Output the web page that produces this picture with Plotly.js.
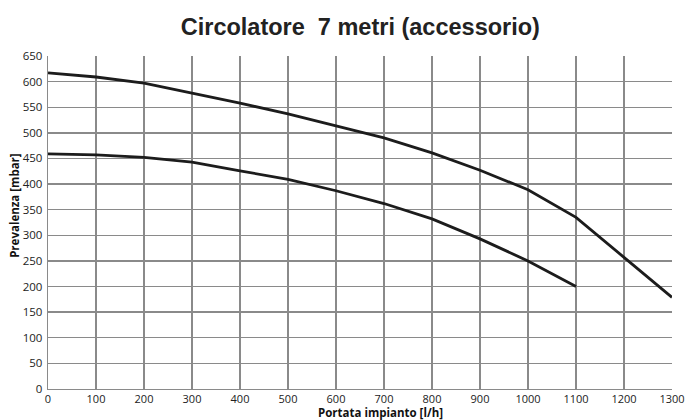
<!DOCTYPE html>
<html>
<head>
<meta charset="utf-8">
<script src="https://cdn.plot.ly/plotly-3.0.1.min.js"></script>
<style>html,body{margin:0;padding:0;background:#fff;}#chart{width:689px;height:420px;}</style>
</head>
<body>
<div id="chart"></div>
<script>
var flowHigh = [0, 100, 200, 300, 400, 500, 600, 700, 800, 900, 1000, 1100, 1200, 1300];
var headHigh = [617, 609, 597, 578, 558, 537, 513, 490, 461, 427, 389, 335, 257, 179];
var flowLow = [0, 100, 200, 300, 400, 500, 600, 700, 800, 900, 1000, 1100];
var headLow = [459, 457, 452, 443, 426, 409, 387, 362, 332, 293, 250, 200];
var xTicks = [0, 100, 200, 300, 400, 500, 600, 700, 800, 900, 1000, 1100, 1200, 1300];
var yTicks = [0, 50, 100, 150, 200, 250, 300, 350, 400, 450, 500, 550, 600, 650];

var lineStyle = {color: '#1c1c1c', width: 2.8};
var data = [
  {x: flowHigh, y: headHigh, type: 'scatter', mode: 'lines', line: lineStyle, hoverinfo: 'none'},
  {x: flowLow, y: headLow, type: 'scatter', mode: 'lines', line: lineStyle, hoverinfo: 'none'}
];

var tickFont = {family: 'Open Sans, sans-serif', size: 11.5, color: '#222'};
var layout = {
  width: 689, height: 420,
  margin: {l: 48, r: 17, t: 56, b: 31, pad: 0},
  paper_bgcolor: '#fff', plot_bgcolor: '#fff',
  showlegend: false,
  title: {text: '<b>Circolatore  7 metri (accessorio)</b>', x: 0.523, xanchor: 'center', y: 0.936, yanchor: 'middle',
          font: {family: 'Liberation Sans, Arial, sans-serif', size: 23.5, color: '#222'}},
  xaxis: {range: [0, 1300], tickvals: xTicks, ticktext: xTicks.map(String), showgrid: true,
          gridcolor: '#8a8a8a', gridwidth: 1.3, zeroline: false, showline: true, linecolor: '#8a8a8a', linewidth: 1.3,
          ticks: '', tickfont: {family: 'Open Sans, sans-serif', size: 11, color: '#222'}, fixedrange: true,
          automargin: false, mirror: false, ticklabelstandoff: -1},
  yaxis: {range: [0, 650], tickvals: yTicks, ticktext: yTicks.map(String), showgrid: true,
          gridcolor: '#8a8a8a', gridwidth: 1.3, zeroline: false, showline: true, linecolor: '#8a8a8a', linewidth: 1.3,
          ticks: '', tickfont: tickFont, fixedrange: true, automargin: false, ticklabelstandoff: 2},
  annotations: [
    {text: '<b>Portata impianto [l/h]</b>', xref: 'paper', yref: 'paper', x: 0.533, y: 0, yshift: -23,
     xanchor: 'center', yanchor: 'middle', showarrow: false,
     font: {family: 'Open Sans, sans-serif', size: 11.5, color: '#111'}},
    {text: '<b>Prevalenza [mbar]</b>', xref: 'paper', yref: 'paper', x: 0, xshift: -33, y: 0.55,
     xanchor: 'center', yanchor: 'middle', showarrow: false, textangle: -90,
     font: {family: 'Open Sans, sans-serif', size: 11.5, color: '#111'}}
  ]
};
Plotly.newPlot('chart', data, layout, {displayModeBar: false, staticPlot: true});
</script>
</body>
</html>
